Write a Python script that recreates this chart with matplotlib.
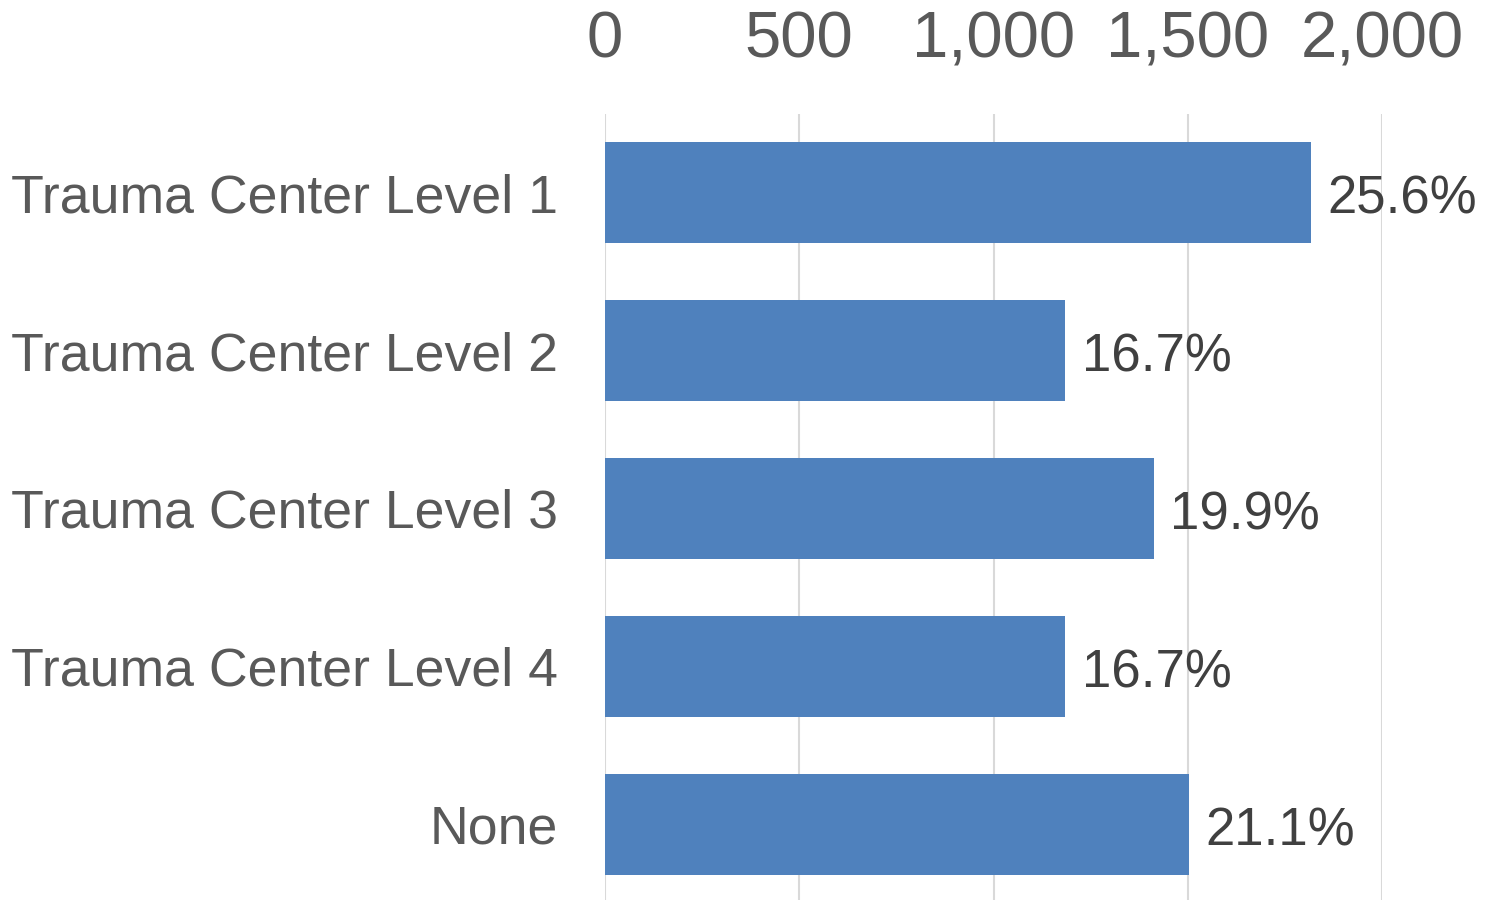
import numpy as np
import matplotlib.pyplot as plt

plt.rcParams['font.family'] = ['Liberation Sans', 'DejaVu Sans']

categories = ["Trauma Center Level 1", "Trauma Center Level 2", "Trauma Center Level 3",
              "Trauma Center Level 4", "None"]
counts = [1817, 1184, 1412, 1184, 1502]
pct_labels = ["25.6%", "16.7%", "19.9%", "16.7%", "21.1%"]
x_ticks = [0, 500, 1000, 1500, 2000]

fig = plt.figure(figsize=(14.92, 9), dpi=100)
ax = fig.add_axes([605 / 1492, -3 / 900, (1382 - 605) / 1492, (903 - 114) / 900])

y = np.arange(len(categories))
ax.barh(y, counts, height=0.64, color="#4F81BD", zorder=2)
ax.set_ylim(len(categories) - 0.5, -0.5)
ax.set_xlim(0, 2000)

ax.set_yticks(y)
ax.set_yticklabels(categories)
ax.set_xticks(x_ticks)
ax.set_xticklabels([f"{v:,}" for v in x_ticks])
ax.xaxis.tick_top()
ax.tick_params(axis="x", length=0, labelsize=47, colors="#595959", pad=31)
ax.tick_params(axis="y", length=0, labelsize=38.6, colors="#595959", pad=34)

ax.grid(axis="x", color="#D9D9D9", linewidth=1.5, zorder=0)
ax.set_axisbelow(True)
for s in ax.spines.values():
    s.set_visible(False)

for yi, v, lab in zip(y, counts, pct_labels):
    ax.annotate(lab, (v, yi), xytext=(12, -5), textcoords="offset points",
                va="center", ha="left", fontsize=38, color="#404040", zorder=3,
                annotation_clip=False)

fig.savefig("out.png", dpi=100)
